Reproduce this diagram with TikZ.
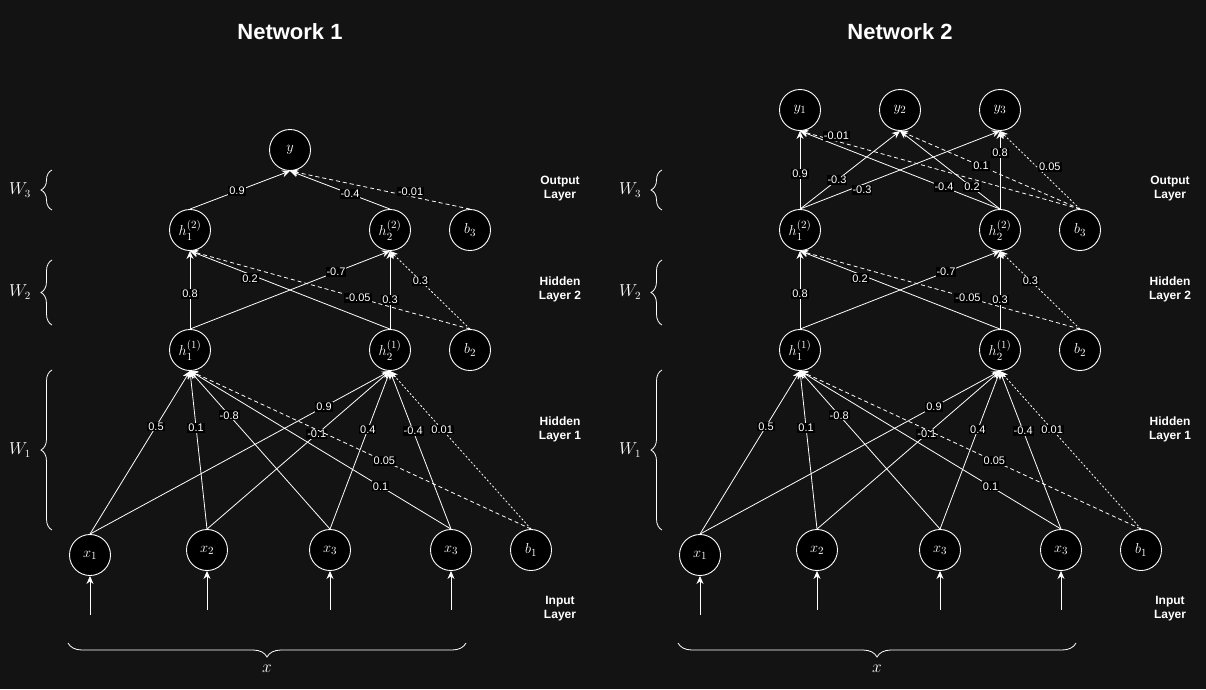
\documentclass[tikz,border=0pt]{standalone}
\usepackage{amsmath}
\usepackage{fontspec}
\setmainfont{Liberation Sans}
\usetikzlibrary{arrows.meta,decorations.pathreplacing}

\definecolor{bgcol}{HTML}{131313}

\tikzset{
    neuron/.style={circle, draw=white, fill=black, line width=0.9pt, minimum size=41pt, inner sep=0pt, text=white, font=\fontsize{15}{15}\selectfont},
    wt/.style={fill=black, text=white, inner sep=1pt, font=\fontsize{11}{11}\selectfont},
    link/.style={draw=white, line width=0.8pt, -{Stealth[length=8pt,width=7pt]}},
    dashlink/.style={link, dash pattern=on 4pt off 3pt},
    dotlink/.style={link, dash pattern=on 2pt off 2pt},
    layertxt/.style={text=white, align=center, font=\bfseries\fontsize{12}{14}\selectfont},
    nettitle/.style={text=white, font=\bfseries\fontsize{22}{26}\selectfont},
    mathtxt/.style={text=white, font=\fontsize{16}{16}\selectfont},
    wbrace/.style={draw=white, line width=0.8pt, decorate, decoration={brace, amplitude=11pt}}
}

\begin{document}
\begin{tikzpicture}[x=1pt, y=-1pt]
    \useasboundingbox[fill=bgcol] (0,0) rectangle (1206,689);

    % both networks share the input and hidden layers
    \foreach \p/\dx/\k in {A/0/1, B/610/2} {
    \begin{scope}[xshift=\dx, name prefix=\p-]
    \node[nettitle] (title) at (290,32) {Network \k};

    % input layer
    \node[neuron] (x1) at (90,555) {$x_1$};
    \node[neuron] (x2) at (207,550) {$x_2$};
    \node[neuron] (x3) at (330,550) {$x_3$};
    \node[neuron] (x4) at (451,550) {$x_3$};
    \node[neuron] (b1) at (531,550) {$b_1$};

    % hidden layers
    \node[neuron] (h11) at (190,350) {$h_1^{(1)}$};
    \node[neuron] (h21) at (390,350) {$h_2^{(1)}$};
    \node[neuron] (b2) at (470,350) {$b_2$};
    \node[neuron] (h12) at (190,230) {$h_1^{(2)}$};
    \node[neuron] (h22) at (390,230) {$h_2^{(2)}$};
    \node[neuron] (b3) at (470,230) {$b_3$};

    % inputs coming in
    \coordinate (in1) at (90,615);
    \coordinate (in2) at (207,610);
    \coordinate (in3) at (330,610);
    \coordinate (in4) at (451,610);
    \draw[link] (in1) -- (x1.south);
    \draw[link] (in2) -- (x2.south);
    \draw[link] (in3) -- (x3.south);
    \draw[link] (in4) -- (x4.south);

    % W1
    \draw[link] (x1.north) -- node[wt,pos=.66]{0.5} (h11.south);
    \draw[link] (x1.north) -- node[wt,pos=.78]{0.9} (h21.south);
    \draw[link] (x2.north) -- node[wt,pos=.64]{0.1} (h11.south);
    \draw[link] (x2.north) -- node[wt,pos=.6]{-0.1} (h21.south);
    \draw[link] (x3.north) -- node[wt,pos=.72]{-0.8} (h11.south);
    \draw[link] (x3.north) -- node[wt,pos=.63]{0.4} (h21.south);
    \draw[link] (x4.north) -- node[wt,pos=.27]{0.1} (h11.south);
    \draw[link] (x4.north) -- node[wt,pos=.62]{-0.4} (h21.south);
    \draw[dashlink] (b1.north) -- node[wt,pos=.43]{0.05} (h11.south);
    \draw[dotlink] (b1.north) -- node[wt,pos=.63]{0.01} (h21.south);

    % W2
    \draw[link] (h11.north) -- node[wt,pos=.45]{0.8} (h12.south);
    \draw[link] (h11.north) -- node[wt,pos=.73]{-0.7} (h22.south);
    \draw[link] (h21.north) -- node[wt,pos=.7,yshift=-4pt]{0.2} (h12.south);
    \draw[link] (h21.north) -- node[wt,pos=.37]{0.3} (h22.south);
    \draw[dashlink] (b2.north) -- node[wt,pos=.4]{-0.05} (h12.south);
    \draw[dotlink] (b2.north) -- node[wt,pos=.62]{0.3} (h22.south);

    % braces and layer names
    \draw[wbrace] (52,210) -- (52,170);
    \draw[wbrace] (52,325) -- (52,260);
    \draw[wbrace] (52,530) -- (52,370);
    \draw[wbrace, decoration={amplitude=14pt}] (466,643) -- (68,643);
    \node[mathtxt] (w3) at (20,190) {$W_3$};
    \node[mathtxt] (w2) at (20,292) {$W_2$};
    \node[mathtxt] (w1) at (20,450) {$W_1$};
    \node[mathtxt] (xvec) at (267,669) {$x$};
    \node[layertxt] (lout) at (560,189) {Output\\Layer};
    \node[layertxt] (lhid2) at (560,289) {Hidden\\Layer 2};
    \node[layertxt] (lhid1) at (560,429) {Hidden\\Layer 1};
    \node[layertxt] (lin) at (560,609) {Input\\Layer};
    \end{scope}
    }

    % network 1 output
    \begin{scope}[name prefix=A-]
    \node[neuron] (y) at (290,150) {$y$};
    \draw[link] (h12.north) -- node[wt,pos=.47]{0.9} (y.south);
    \draw[link] (h22.north) -- node[wt,pos=.4]{-0.4} (y.south);
    \draw[dashlink] (b3.north) -- node[wt,pos=.33,yshift=5pt]{-0.01} (y.south);
    \end{scope}

    % network 2 output
    \begin{scope}[xshift=610, name prefix=B-]
    \node[neuron] (y1) at (190,110) {$y_1$};
    \node[neuron] (y2) at (290,110) {$y_2$};
    \node[neuron] (y3) at (390,110) {$y_3$};
    \draw[link] (h12.north) -- node[wt,pos=.45]{0.9} (y1.south);
    \draw[link] (h12.north) -- node[wt,pos=.37]{-0.3} (y2.south);
    \draw[link] (h12.north) -- node[wt,pos=.31,yshift=-5pt]{-0.3} (y3.south);
    \draw[link] (h22.north) -- node[wt,pos=.28]{-0.4} (y1.south);
    \draw[link] (h22.north) -- node[wt,pos=.28]{0.2} (y2.south);
    \draw[link] (h22.north) -- node[wt,pos=.72]{0.8} (y3.south);
    \draw[dashlink] (b3.north) -- node[wt,pos=.87,yshift=5pt]{-0.01} (y1.south);
    \draw[dashlink] (b3.north) -- node[wt,pos=.55]{0.1} (y2.south);
    \draw[dotlink] (b3.north) -- node[wt,pos=.54,xshift=13pt]{0.05} (y3.south);
    \end{scope}
\end{tikzpicture}
\end{document}
